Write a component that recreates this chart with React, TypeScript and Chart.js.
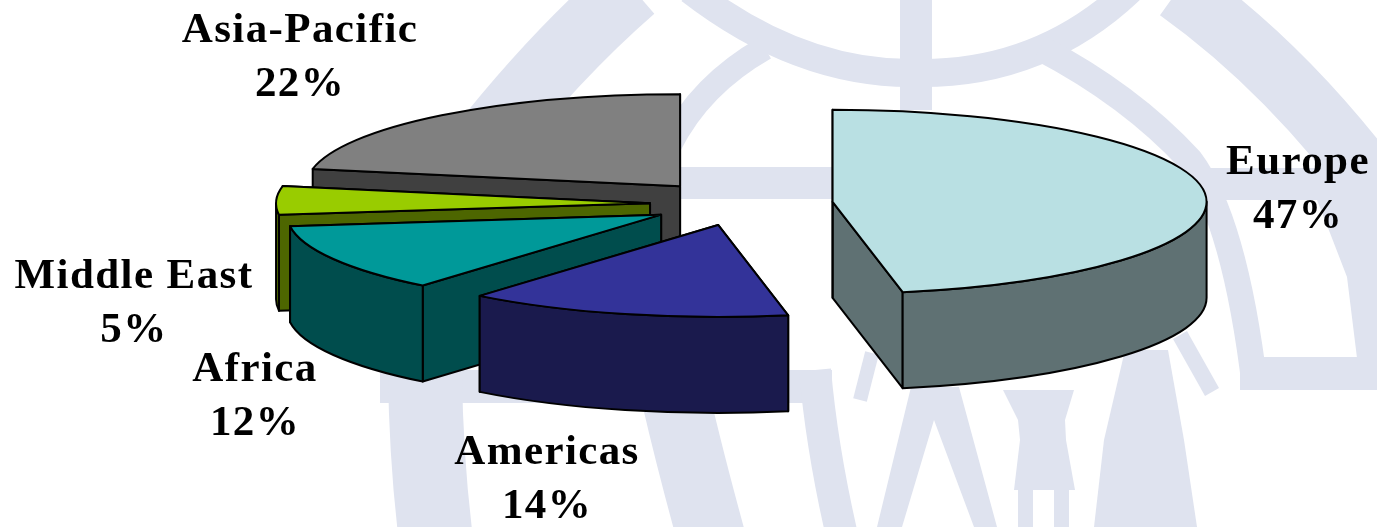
import { useEffect, useRef } from "react";
import { Chart, registerables } from "chart.js";

Chart.register(...registerables);

const regions = ["Europe", "Americas", "Africa", "Middle East", "Asia-Pacific"];
const shares = [47, 14, 12, 5, 22];
const sliceColors = ["#b9e0e3", "#333399", "#009999", "#99cc00", "#808080"];
const wallColors = ["#5f7173", "#1a1a4d", "#004d4d", "#4d6600", "#404040"];
const explodeDistances = [93, 88, 90, 90, 94];

// Label anchors: horizontal centre and the baseline of the region name.
const labelCentres = [1298, 547, 255, 134, 300];
const labelBaselines = [174, 464, 381, 288, 42];

const CANVAS_W = 1377;
const CANVAS_H = 527;
const TILT = 0.246; // vertical squash of the pie's top face
const DEPTH = 96; // height of the extruded wall
const EDGE = "#000000";
const WATERMARK = "#dfe3ef";

type Stroke = { w: number; d: string };

// Pale emblem behind the pie, in canvas pixels: thick strokes, then filled outlines.
const emblemStrokes: Stroke[] = [
  { w: 68, d: "M 480 150 Q 555 55 632 -12" },
  { w: 28, d: "M 690 -10 Q 800 75 916 73 Q 1040 75 1130 -10" },
  { w: 24, d: "M 670 145 Q 700 85 765 48" },
  { w: 26, d: "M 1040 48 Q 1130 95 1190 160 Q 1235 220 1255 388" },
  { w: 62, d: "M 1178 -10 Q 1290 70 1385 200" },
  { w: 32, d: "M 680 183 L 840 183" },
  { w: 32, d: "M 1200 184 L 1377 184" },
  { w: 33, d: "M 1240 373.5 L 1377 373.5" },
  { w: 32, d: "M 916 0 L 916 110" },
  { w: 33, d: "M 380 386.5 L 832 386.5" },
  { w: 74, d: "M 425 372 Q 426 460 436 540" },
  { w: 68, d: "M 675 395 Q 690 460 712 540" },
  { w: 32, d: "M 815 370 Q 822 450 843 540" },
  { w: 14, d: "M 860 400 L 872 353" },
  { w: 16, d: "M 1180 335 L 1212 392" },
];

const emblemFills: string[] = [
  "M 911 387 L 959 387 L 997 527 L 974 527 L 934 420 L 902 527 L 877 527 Z",
  "M 1003 390 L 1074 390 L 1065 420 L 1066 440 L 1075 490 L 1069 490 L 1069 527 L 1054 527 L 1054 490 L 1033 490 L 1033 527 L 1018 527 L 1018 490 L 1014 490 L 1020 440 L 1018 420 Z",
  "M 1125 350 L 1168 350 L 1184 440 L 1197 527 L 1094 527 L 1104 440 Z",
  "M 1317 200 L 1330 233 L 1347 277 L 1357 358 L 1377 358 L 1377 200 Z",
];

const emblemPlugin = {
  id: "emblem",
  beforeDraw(chart: Chart) {
    const { ctx } = chart;
    ctx.save();
    ctx.fillStyle = "#ffffff";
    ctx.fillRect(0, 0, CANVAS_W, CANVAS_H);
    ctx.strokeStyle = WATERMARK;
    ctx.fillStyle = WATERMARK;
    ctx.lineCap = "butt";
    ctx.lineJoin = "round";
    for (const s of emblemStrokes) {
      ctx.lineWidth = s.w;
      ctx.stroke(new Path2D(s.d));
    }
    for (const d of emblemFills) ctx.fill(new Path2D(d));
    ctx.restore();
  },
};

// Draws each arc element as an exploded, extruded wedge, rear slices first.
const wedgePlugin = {
  id: "wedges",
  beforeDatasetsDraw(chart: Chart) {
    const { ctx } = chart;
    const arcs = chart.getDatasetMeta(0).data as any[];
    ctx.save();
    ctx.lineWidth = 2;
    ctx.strokeStyle = EDGE;
    ctx.lineJoin = "round";

    for (let i = arcs.length - 1; i >= 0; i--) {
      const arc = arcs[i];
      const { startAngle: a0, endAngle: a1, outerRadius: rx } = arc;
      const ry = rx * TILT;
      const mid = (a0 + a1) / 2;
      const cx = arc.x + Math.cos(mid) * explodeDistances[i];
      const cy = arc.y + Math.sin(mid) * explodeDistances[i] * TILT;
      const rim = (t: number) => [cx + rx * Math.cos(t), cy + ry * Math.sin(t)];

      ctx.fillStyle = wallColors[i];
      // The cut at the end angle lies behind the cut at the start angle.
      for (const t of [a1, a0]) {
        const [px, py] = rim(t);
        ctx.beginPath();
        ctx.moveTo(cx, cy);
        ctx.lineTo(px, py);
        ctx.lineTo(px, py + DEPTH);
        ctx.lineTo(cx, cy + DEPTH);
        ctx.closePath();
        ctx.fill();
        ctx.stroke();
      }

      // The outer wall only shows on the half of the rim facing the viewer.
      const w0 = Math.max(a0, 0);
      const w1 = Math.min(a1, Math.PI);
      if (w1 > w0) {
        ctx.beginPath();
        ctx.ellipse(cx, cy, rx, ry, 0, w0, w1);
        ctx.ellipse(cx, cy + DEPTH, rx, ry, 0, w1, w0, true);
        ctx.closePath();
        ctx.fill();
        ctx.stroke();
      }

      ctx.fillStyle = arc.options.backgroundColor;
      ctx.beginPath();
      ctx.moveTo(cx, cy);
      ctx.ellipse(cx, cy, rx, ry, 0, a0, a1);
      ctx.closePath();
      ctx.fill();
      ctx.stroke();
    }
    ctx.restore();
    return false;
  },
};

const labelPlugin = {
  id: "sliceLabels",
  afterDraw(chart: Chart) {
    const { ctx } = chart;
    ctx.save();
    ctx.fillStyle = "#000000";
    ctx.textAlign = "center";
    ctx.textBaseline = "alphabetic";
    ctx.font = 'bold 43px "Liberation Serif"';
    (ctx as any).letterSpacing = "1.4px";
    regions.forEach((name, i) => {
      ctx.fillText(name, labelCentres[i], labelBaselines[i]);
      ctx.fillText(`${shares[i]}%`, labelCentres[i], labelBaselines[i] + 54);
    });
    ctx.restore();
  },
};

export default function App() {
  const ref = useRef<HTMLCanvasElement>(null);

  useEffect(() => {
    document.body.style.margin = "0";
    const chart = new Chart(ref.current!, {
      type: "pie",
      data: {
        labels: regions,
        datasets: [{ data: shares, backgroundColor: sliceColors, borderColor: EDGE }],
      },
      options: {
        animation: false,
        responsive: false,
        radius: 374,
        // Places the pie's centre at (740, 204) on the canvas.
        layout: { padding: { left: 103, bottom: 119 } },
        plugins: { legend: { display: false }, tooltip: { enabled: false } },
      },
      plugins: [emblemPlugin, wedgePlugin, labelPlugin],
    } as any);
    return () => chart.destroy();
  }, []);

  return (
    <canvas
      ref={ref}
      width={CANVAS_W}
      height={CANVAS_H}
      style={{ display: "block", width: CANVAS_W, height: CANVAS_H }}
    />
  );
}
